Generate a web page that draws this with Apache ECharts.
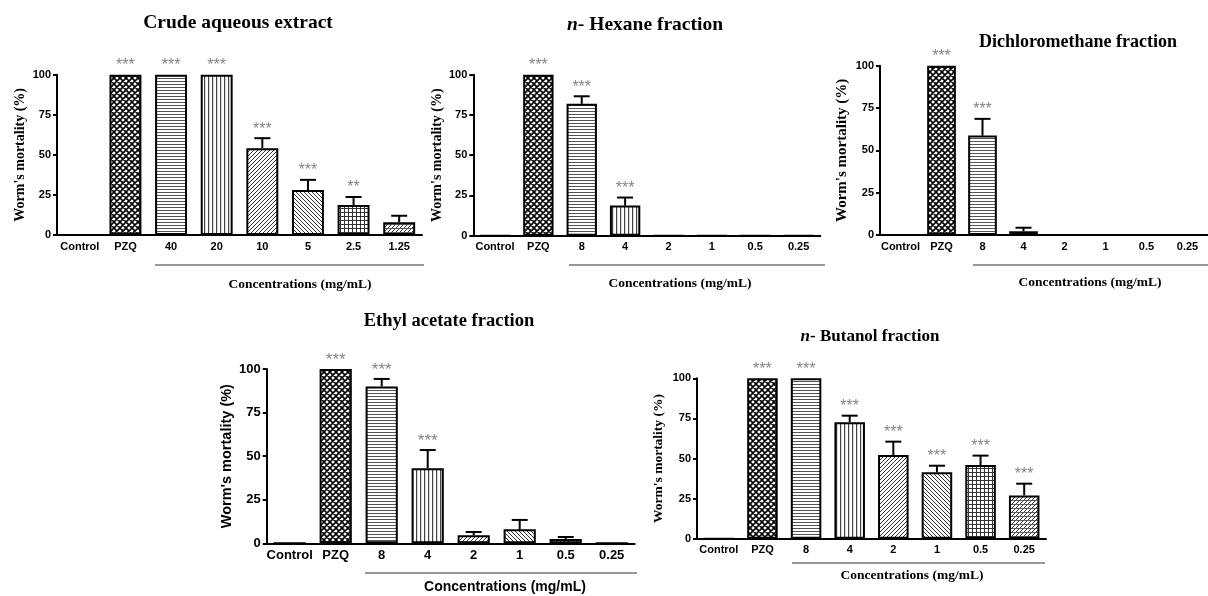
<!DOCTYPE html>
<html>
<head>
<meta charset="utf-8">
<script src="https://cdn.jsdelivr.net/npm/echarts@6/dist/echarts.min.js"></script>
<style>
html,body{margin:0;padding:0;background:#fff;}
#chart{width:1208px;height:596px;}
</style>
</head>
<body>
<div id="chart"></div>
<script>
// ---------- DATA ----------
const crudeCategories = ['Control', 'PZQ', '40', '20', '10', '5', '2.5', '1.25'];
const fractionCategories = ['Control', 'PZQ', '8', '4', '2', '1', '0.5', '0.25'];
const yTickValues = [0, 25, 50, 75, 100];

const crudeMean = [0, 100, 100, 100, 54.1, 28.0, 18.7, 7.9];
const crudeErr = [0, 0, 0, 0, 6.3, 6.4, 5.0, 4.1];
const crudeStars = ['', '***', '***', '***', '***', '***', '**', ''];

const hexaneMean = [0, 100, 81.9, 18.7, 0, 0, 0, 0];
const hexaneErr = [0, 0, 4.7, 5.0, 0, 0, 0, 0];
const hexaneStars = ['', '***', '***', '***', '', '', '', ''];

const dcmMean = [0, 100, 58.7, 2.2, 0, 0, 0, 0];
const dcmErr = [0, 0, 9.9, 2.1, 0, 0, 0, 0];
const dcmStars = ['', '***', '***', '', '', '', '', ''];

const ethylMean = [0, 100, 89.9, 43.0, 4.6, 8.0, 2.5, 0];
const ethylErr = [0, 0, 4.4, 10.5, 1.9, 5.4, 1.1, 0];
const ethylStars = ['', '***', '***', '***', '', '', '', ''];

const butanolMean = [0, 100, 100, 72.6, 52.2, 41.4, 45.9, 27.0];
const butanolErr = [0, 0, 0, 4.1, 8.3, 4.1, 5.9, 7.3];
const butanolStars = ['', '***', '***', '***', '***', '***', '***', '***'];

// ---------- STYLE ----------
const SERIF = '"Liberation Serif","Times New Roman",serif';
const SANS = '"Liberation Sans",Arial,sans-serif';

function makePattern(type) {
  const c = document.createElement('canvas');
  let s = 4;
  if (type === 'cross') s = 6;
  if (type === 'hlines') s = 3;
  c.width = s; c.height = s;
  const ctx = c.getContext('2d');
  ctx.fillStyle = '#fff';
  ctx.fillRect(0, 0, s, s);
  if (type === 'none') return '#fff';
  if (type === 'cross') {
    ctx.strokeStyle = '#000'; ctx.lineWidth = 1.6;
    ctx.beginPath();
    for (const k of [-s, 0, s]) {
      ctx.moveTo(k, 0); ctx.lineTo(k + s, s);
      ctx.moveTo(k + s, 0); ctx.lineTo(k, s);
    }
    ctx.stroke();
  } else if (type === 'hlines') {
    ctx.fillStyle = '#555'; ctx.fillRect(0, 0, s, 1);
  } else if (type === 'vlines') {
    ctx.fillStyle = '#444'; ctx.fillRect(0, 0, 1.2, s);
  } else if (type === 'diagR' || type === 'dense') {
    ctx.strokeStyle = '#333'; ctx.lineWidth = 1;
    ctx.beginPath();
    for (const k of [-s, 0, s]) { ctx.moveTo(k, s); ctx.lineTo(k + s, 0); }
    ctx.stroke();
    if (type === 'dense') { ctx.fillStyle = '#444'; ctx.fillRect(0, 0, s, 0.8); }
  } else if (type === 'diagL') {
    ctx.strokeStyle = '#333'; ctx.lineWidth = 1;
    ctx.beginPath();
    for (const k of [-s, 0, s]) { ctx.moveTo(k, 0); ctx.lineTo(k + s, s); }
    ctx.stroke();
  } else if (type === 'grid') {
    ctx.fillStyle = '#333'; ctx.fillRect(0, 0, s, 1); ctx.fillRect(0, 0, 1, s);
  }
  return { image: c, repeat: 'repeat' };
}
const patternTypes = ['none', 'cross', 'hlines', 'vlines', 'diagR', 'diagL', 'grid', 'dense'];
const patterns = patternTypes.map(makePattern);

const panels = [
  { cats: crudeCategories, mean: crudeMean, err: crudeErr, stars: crudeStars,
    grid: { left: 57, top: 74.7, width: 365, height: 160.3 }, fs: 11, nameFont: SERIF, nameSize: 14, nameGap: 30 },
  { cats: fractionCategories, mean: hexaneMean, err: hexaneErr, stars: hexaneStars,
    grid: { left: 473.3, top: 74.7, width: 347, height: 161 }, fs: 11, nameFont: SERIF, nameSize: 14, nameGap: 29 },
  { cats: fractionCategories, mean: dcmMean, err: dcmErr, stars: dcmStars,
    grid: { left: 880, top: 65.7, width: 334, height: 169.3 }, fs: 11, nameFont: SERIF, nameSize: 15, nameGap: 30 },
  { cats: fractionCategories, mean: ethylMean, err: ethylErr, stars: ethylStars,
    grid: { left: 266.7, top: 369, width: 368, height: 174.3 }, fs: 13, nameFont: SANS, nameSize: 14.5, nameGap: 32 },
  { cats: fractionCategories, mean: butanolMean, err: butanolErr, stars: butanolStars,
    grid: { left: 697, top: 378.3, width: 349, height: 160.4 }, fs: 11, nameFont: SERIF, nameSize: 13.5, nameGap: 31 }
];

const grids = [], xAxes = [], yAxes = [], series = [];
panels.forEach((p, gi) => {
  grids.push(Object.assign({ containLabel: false }, p.grid));
  xAxes.push({
    type: 'category', gridIndex: gi, data: p.cats,
    axisLine: { lineStyle: { color: '#000', width: 2 } },
    axisTick: { alignWithLabel: true, length: 4, lineStyle: { color: '#000', width: 2 } },
    axisLabel: { interval: 0, margin: 6, color: '#000', fontFamily: SANS, fontWeight: 'bold', fontSize: p.fs },
    splitLine: { show: false }
  });
  yAxes.push({
    type: 'value', gridIndex: gi, min: yTickValues[0], max: yTickValues[yTickValues.length - 1],
    interval: yTickValues[1] - yTickValues[0],
    name: "Worm's mortality (%)", nameLocation: 'middle', nameGap: p.nameGap, nameRotate: 90,
    nameTextStyle: { fontFamily: p.nameFont, fontWeight: 'bold', fontSize: p.nameSize, color: '#000' },
    axisLine: { show: true, lineStyle: { color: '#000', width: 2 } },
    axisTick: { show: true, length: 4, lineStyle: { color: '#000', width: 2 } },
    axisLabel: { margin: 6, color: '#000', fontFamily: SANS, fontWeight: 'bold', fontSize: p.fs },
    splitLine: { show: false }
  });
  series.push({
    type: 'bar', xAxisIndex: gi, yAxisIndex: gi, barWidth: '70%', silent: true,
    data: p.mean.map((v, i) => ({ value: v, itemStyle: { color: patterns[i] } })),
    itemStyle: { borderColor: '#000', borderWidth: 2 }
  });
  const mean = p.mean, err = p.err, stars = p.stars, starSize = p.fs === 13 ? 17 : 16;
  series.push({
    type: 'custom', xAxisIndex: gi, yAxisIndex: gi, z: 5, clip: false, silent: true,
    data: mean.map((m, i) => [i, m + err[i]]),
    renderItem: function (params, api) {
      const i = api.value(0);
      const base = api.coord([i, mean[i]]);
      const top = api.coord([i, mean[i] + err[i]]);
      const children = [];
      if (err[i] > 0) {
        children.push({ type: 'line', shape: { x1: base[0], y1: base[1], x2: top[0], y2: top[1] },
          style: { stroke: '#000', lineWidth: 2 } });
        children.push({ type: 'line', shape: { x1: top[0] - 8, y1: top[1], x2: top[0] + 8, y2: top[1] },
          style: { stroke: '#000', lineWidth: 2 } });
      }
      if (stars[i]) {
        children.push({ type: 'text', x: top[0], y: top[1] - 9,
          style: { text: stars[i], fill: '#858585', font: starSize + 'px ' + SANS,
            align: 'center', verticalAlign: 'middle' } });
      }
      return { type: 'group', children: children };
    }
  });
});

function titleText(x, y, size, text, italicPrefix) {
  const rich = { i: { fontFamily: SERIF, fontWeight: 'bold', fontStyle: 'italic', fontSize: size, fill: '#000' },
                 b: { fontFamily: SERIF, fontWeight: 'bold', fontSize: size, fill: '#000' } };
  return { type: 'text', x: x, y: y, style: {
    text: italicPrefix ? '{i|' + italicPrefix + '}{b|' + text + '}' : '{b|' + text + '}',
    rich: rich, align: 'center', verticalAlign: 'middle' } };
}
function plainText(x, y, text, font) {
  return { type: 'text', x: x, y: y, style: { text: text, font: font, fill: '#000', align: 'center', verticalAlign: 'middle' } };
}
function bracket(x1, x2, y) {
  return { type: 'line', shape: { x1: x1, y1: y, x2: x2, y2: y }, style: { stroke: '#777', lineWidth: 1.3 } };
}
const concLabel = 'Concentrations (mg/mL)';
const graphics = [
  titleText(238, 23, 19.5, 'Crude aqueous extract'),
  titleText(645, 25, 19.5, '- Hexane fraction', 'n'),
  titleText(1078, 42, 18, 'Dichloromethane fraction'),
  titleText(449, 321, 18.5, 'Ethyl acetate fraction'),
  titleText(870, 337, 17, '- Butanol fraction', 'n'),
  bracket(155, 424, 265), bracket(569, 825, 265), bracket(973, 1208, 265),
  bracket(365, 637, 573), bracket(792, 1045, 563),
  plainText(300, 285, concLabel, 'bold 13.5px ' + SERIF),
  plainText(680, 284, concLabel, 'bold 13.5px ' + SERIF),
  plainText(1090, 283, concLabel, 'bold 13.5px ' + SERIF),
  plainText(505, 587, concLabel, 'bold 14px ' + SANS),
  plainText(912, 576, concLabel, 'bold 13.5px ' + SERIF)
];

const chart = echarts.init(document.getElementById('chart'), null, { renderer: 'canvas' });
chart.setOption({
  backgroundColor: '#fff',
  animation: false,
  grid: grids, xAxis: xAxes, yAxis: yAxes, series: series,
  graphic: { elements: graphics }
});
</script>
</body>
</html>
